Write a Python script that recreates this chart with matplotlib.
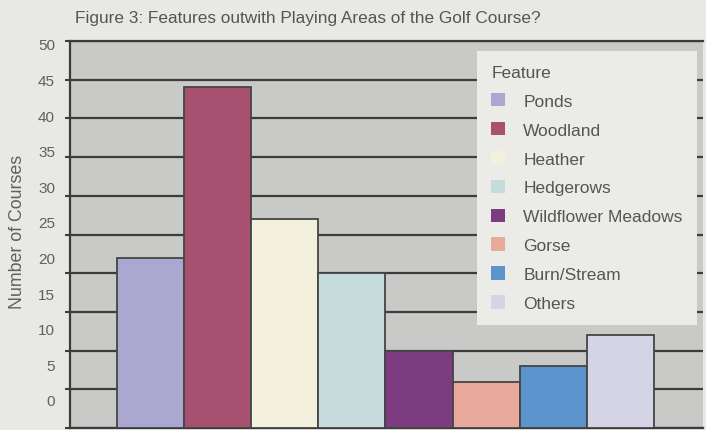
import matplotlib
matplotlib.use("Agg")
import matplotlib.pyplot as plt
from matplotlib.patches import Patch

plt.rcParams['font.family'] = ['Liberation Sans', 'DejaVu Sans']

features = ['Ponds', 'Woodland', 'Heather', 'Hedgerows', 'Wildflower Meadows',
            'Gorse', 'Burn/Stream', 'Others']
courses = [22, 44, 27, 20, 10, 6, 8, 12]
colours = ['#aaa8d0', '#a8506f', '#f3f1dd', '#c6dbdc', '#7d3c80',
           '#e8a99b', '#5b93cc', '#d4d4e4']
yticks = [0, 5, 10, 15, 20, 25, 30, 35, 40, 45, 50]

W, H = 706, 431
fig = plt.figure(figsize=(W / 100, H / 100), dpi=100)
fig.patch.set_facecolor('#e8e8e5')

# axes box in pixels: left 70, right 703, top 42, bottom 429
ax = fig.add_axes([70 / W, (H - 429) / H, (703 - 70) / W, (429 - 42) / H])
ax.set_facecolor('#c9c9c7')

x = list(range(len(features)))
ax.bar(x, courses, width=1.0, color=colours, edgecolor='#454545',
       linewidth=1.3, zorder=3)

ax.set_xlim(-1.2, 8.23)
ax.set_ylim(0, 50)
ax.set_yticks(yticks)
ax.set_xticks([])
ax.yaxis.grid(True, color='#3c3c3c', linewidth=1.6, zorder=1)
ax.set_axisbelow(True)
ax.tick_params(axis='y', direction='out', length=3.5, width=1.5, color='#3c3c3c',
               labelleft=False)

for side in ['left', 'top', 'bottom']:
    ax.spines[side].set_color('#3c3c3c')
    ax.spines[side].set_linewidth(1.6)
ax.spines['right'].set_visible(False)

ax.set_ylabel('Number of Courses', fontsize=12.8, color='#606060')
ax.yaxis.set_label_coords(-(70 - 26) / 633, (429 - 232) / 387)

# the printed tick labels sit on a slightly squashed scale (50 at y=45px, 0 at y=401px)
lab = fig.add_axes([70 / W, (H - 401) / H, (703 - 70) / W, (401 - 45) / H])
lab.patch.set_visible(False)
for s in lab.spines.values():
    s.set_visible(False)
lab.set_xticks([])
lab.set_ylim(0, 50)
lab.set_yticks(yticks)
lab.tick_params(axis='y', length=0, pad=15 * 0.72, labelsize=11, labelcolor='#606060')

fig.text(75 / W, 1 - 18 / H, 'Figure 3: Features outwith Playing Areas of the Golf Course?',
         fontsize=12.4, color='#555555', va='center', ha='left')

handles = [Patch(facecolor=c, edgecolor='none') for c in colours]
leg = ax.legend(handles, features, title='Feature', loc='upper right',
                bbox_to_anchor=(0.990, 0.974), borderaxespad=0,
                fontsize=12.5, title_fontsize=12.5, labelspacing=0.76,
                handlelength=0.8, handleheight=0.8, handletextpad=1.05,
                borderpad=0.8, frameon=True, fancybox=False, framealpha=1,
                alignment='left')
leg.get_frame().set_facecolor('#ebebe8')
leg.get_frame().set_edgecolor('none')
leg.set_zorder(5)
for t in leg.get_texts():
    t.set_color('#555555')
leg.get_title().set_color('#555555')

fig.savefig('out.png', dpi=100, facecolor=fig.get_facecolor())
